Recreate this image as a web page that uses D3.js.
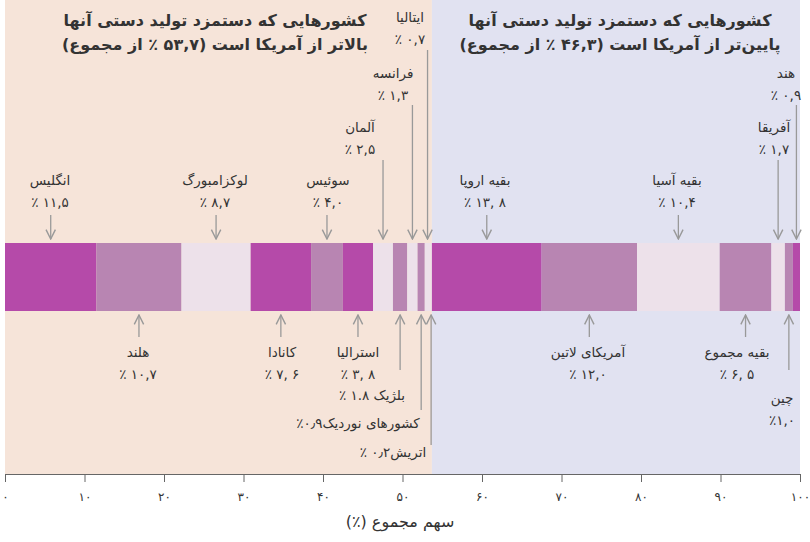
<!DOCTYPE html>
<html><head><meta charset="utf-8">
<script src="https://d3js.org/d3.v7.min.js"></script>
<style>body{margin:0;background:#fff}text{font-family:"DejaVu Sans",sans-serif;fill:#333}</style>
</head><body><svg id="c" width="810" height="542"></svg>
<script>
const names = ["UK","NL","LUX","CAN","SUI","AUS","GER","BEL","FRA","NOR","ITA","AUT","EUR","LAT","ASIA","REST","AFR","CHN","IND"];
const values = [11.5,10.7,8.7,7.6,4.0,3.8,2.5,1.8,1.3,0.9,0.7,0.2,13.8,12.0,10.4,6.5,1.7,1.0,0.9];
const shades = ["p","m","l","p","m","p","l","m","l","m","l","l","p","m","l","m","l","m","p"];
const labels1 = ["انگلیس","هلند","لوکزامبورگ","کانادا","سوئیس","استرالیا","آلمان","بلژیک ۱.۸ ٪","فرانسه","کشورهای نوردیک۰٫۹٪","ایتالیا","اتریش۰٫۲ ٪","بقیه اروپا","آمریکای لاتین","بقیه آسیا","بقیه مجموع","آفریقا","چین","هند"];
const labels2 = ["٪ ۱۱,۵","٪ ۱۰,۷","٪ ۸,۷","٪ ۷, ۶","٪ ۴,۰","٪ ۳, ۸","٪ ۲,۵","","٪ ۱,۳","","٪ ۰,۷","","٪ ۱۳, ۸","٪ ۱۲,۰","٪ ۱۰,۴","٪ ۶, ۵","٪ ۱,۷","٪۱,۰","٪ ۰,۹"];
// label placement: side (t/b), label x, first-line y, arrow far end y
const place = [["t",50,185,215],["b",138,357,337],["t",215,185,215],["b",282,357,337],["t",328,185,215],["b",358,357,337],
 ["t",360,132,160],["b",372,400,370],["t",393,78,105],["b",358,428,410],["t",410,22,50],["b",393,457,445],
 ["t",485,185,215],["b",588,357,337],["t",677,185,215],["b",737,357,337],["t",774,132,160],["b",782,403,370],["t",786,78,105]];
const ticks = [0,10,20,30,40,50,60,70,80,90,100];
const fa = n => String(n).replace(/\d/g,d=>"۰۱۲۳۴۵۶۷۸۹"[d]);
const col = {p:"#b54aa9",m:"#b885b2",l:"#ede1ea"};
const svg = d3.select("#c");
const x = d3.scaleLinear().domain([0,100]).range([5,800]);
const leftTotal = d3.sum(values.slice(0,12));
svg.append("rect").attr("x",x(0)).attr("y",0).attr("width",x(leftTotal)-x(0)).attr("height",474).attr("fill","#f6e4d9");
svg.append("rect").attr("x",x(leftTotal)).attr("y",0).attr("width",x(100)-x(leftTotal)).attr("height",474).attr("fill","#e1e2f1");
let cum=0; const segs = values.map((v,i)=>{const s={i,v,x0:cum,x1:cum+v};cum+=v;return s;});
svg.selectAll("rect.seg").data(segs).enter().append("rect").attr("class","seg")
 .attr("x",d=>x(d.x0)).attr("width",d=>x(d.x1)-x(d.x0)).attr("y",243).attr("height",68).attr("fill",d=>col[shades[d.i]]);
svg.append("defs").append("marker").attr("id","ah").attr("viewBox","0 0 10 10").attr("refX",9).attr("refY",5)
 .attr("markerWidth",9).attr("markerHeight",9).attr("orient","auto-start-reverse")
 .append("path").attr("d","M1,1 L9,5 L1,9").attr("fill","none").attr("stroke","#999").attr("stroke-width",1.2);
segs.forEach(s=>{
  const [side,lx,ly,ay]=place[s.i]; const cx=x((s.x0+s.x1)/2);
  const y2 = side==="t"?239:315;
  svg.append("line").attr("x1",cx).attr("x2",cx).attr("y1",ay).attr("y2",y2).attr("stroke","#999").attr("stroke-width",1.3).attr("marker-end","url(#ah)");
  svg.append("text").attr("x",lx).attr("y",ly).attr("text-anchor","middle").attr("font-size",13.5).attr("direction","rtl").text(labels1[s.i]);
  if(labels2[s.i]) svg.append("text").attr("x",lx).attr("y",ly+22).attr("text-anchor","middle").attr("font-size",13.5).attr("direction","ltr").style("unicode-bidi","bidi-override").text(labels2[s.i]);
});
const titles=[[215,"کشورهایی که دستمزد تولید دستی آنها","بالاتر از آمریکا است (۵۳,۷ ٪ از مجموع)"],[620,"کشورهایی که دستمزد تولید دستی آنها","پایین‌تر از آمریکا است (۴۶,۳ ٪ از مجموع)"]];
titles.forEach(([tx,a,b])=>{const t=svg.append("text").attr("x",tx).attr("y",26).attr("text-anchor","middle").attr("font-size",16).attr("font-weight","bold").attr("direction","rtl");
 t.append("tspan").attr("x",tx).text(a); t.append("tspan").attr("x",tx).attr("dy",24).text(b);});
const ax = svg.append("g").attr("transform","translate(0,474)").call(d3.axisBottom(x).tickValues(ticks).tickSize(8).tickFormat(fa));
ax.select(".domain").attr("stroke","#666"); ax.selectAll("line").attr("stroke","#666");
ax.selectAll("text").attr("font-size",12).attr("dy","1.3em").style("fill","#333");
svg.append("text").attr("x",400).attr("y",527).attr("text-anchor","middle").attr("font-size",16).attr("direction","rtl").text("سهم مجموع (٪)");
</script></body></html>
